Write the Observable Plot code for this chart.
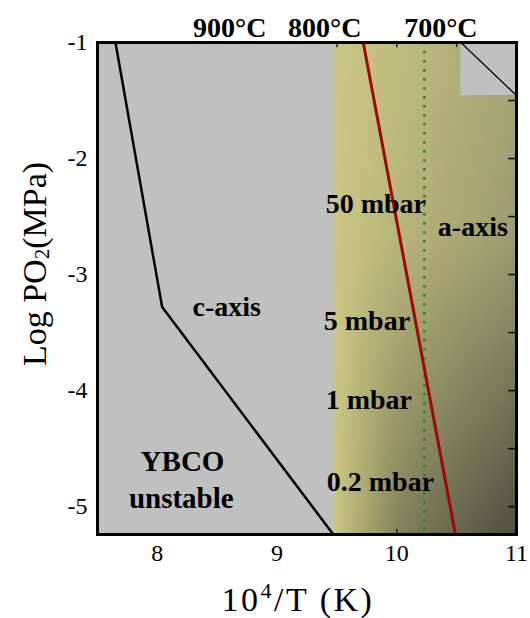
<!DOCTYPE html>
<html><head><meta charset="utf-8">
<script src="https://cdn.jsdelivr.net/npm/d3@7"></script>
<script src="https://cdn.jsdelivr.net/npm/@observablehq/plot@0.6"></script>
<style>body{margin:0;background:white} svg{display:block}</style>
</head><body><div id="chart"></div>
<script>
const xDomain = [7.5, 11];
const yDomain = [-5.24, -1];
const xTicks = [8, 9, 10, 11];
const yTicks = [-1, -2, -3, -4, -5];
const rightMinorTicks = [-1.5, -2, -2.5, -3, -3.5, -4, -4.5, -5];
const topMinorTicks = [9.5, 10, 10.5];
const bottomMinorTicks = [10];
const stabilityBoundary = [{x: 7.65, y: -1}, {x: 8.04, y: -3.28}, {x: 9.47, y: -5.24}];
const oxygenLine = [{x: 9.72, y: -1}, {x: 10.49, y: -5.24}];
const line700 = [10.23];
const aAxisRegion = [{x1: 9.48, x2: 11, y1: -5.24, y2: -1}];
const fullRegion = [{x1: 7.5, x2: 11, y1: -5.24, y2: -1}];
const cornerRegion = [{x1: 10.535, x2: 11, y1: -1.457, y2: -1}];
const cornerDiagonal = [{x: 10.535, y: -1}, {x: 11, y: -1.457}];
const tempLabels = [{x: 8.604, text: "900°C"}, {x: 9.398, text: "800°C"}, {x: 10.368, text: "700°C"}];
const leftLabels = [
  {x: 9.406, y: -2.39, text: "50 mbar"},
  {x: 10.343, y: -2.59, text: "a-axis"},
  {x: 9.39, y: -3.40, text: "5 mbar"},
  {x: 9.406, y: -4.08, text: "1 mbar"},
  {x: 9.415, y: -4.79, text: "0.2 mbar"},
  {x: 8.294, y: -3.28, text: "c-axis"}
];
const centerLabels = [
  {x: 8.21, y: -4.61, text: "YBCO"},
  {x: 8.20, y: -4.93, text: "unstable"}
];

const serif = "'Liberation Serif', 'Times New Roman', serif";

const svg = Plot.plot({
  width: 530,
  height: 618,
  marginTop: 42,
  marginBottom: 84,
  marginLeft: 97,
  marginRight: 14,
  style: {fontFamily: serif, fontSize: "24px", background: "white", color: "black"},
  x: {domain: xDomain, ticks: xTicks, tickSize: 0, tickPadding: 9, label: null, tickFormat: d => String(d)},
  y: {domain: yDomain, ticks: yTicks, tickSize: 0, tickPadding: 10, label: null, tickFormat: d => String(d)},
  marks: [
    Plot.rect(fullRegion, {x1: "x1", x2: "x2", y1: "y1", y2: "y2", fill: "#c0c0c0"}),
    Plot.rect(aAxisRegion, {x1: "x1", x2: "x2", y1: "y1", y2: "y2", fill: "url(#gh)"}),
    Plot.rect(aAxisRegion, {x1: "x1", x2: "x2", y1: "y1", y2: "y2", fill: "url(#gv)"}),
    Plot.rect(cornerRegion, {x1: "x1", x2: "x2", y1: "y1", y2: "y2", fill: "#c0c0c0"}),
    Plot.line(cornerDiagonal, {x: "x", y: "y", stroke: "black", strokeWidth: 1.2}),
    Plot.ruleY(rightMinorTicks, {x1: 11, x2: 10.935, stroke: "black", strokeWidth: 1.5}),
    Plot.ruleX(topMinorTicks, {y1: -1, y2: -1.045, stroke: "#222", strokeWidth: 1.5}),
    Plot.ruleX(bottomMinorTicks, {y1: -5.24, y2: -5.195, stroke: "#222", strokeWidth: 1.5}),
    Plot.ruleX(line700, {stroke: "#1a8a1a", strokeWidth: 2.5, strokeDasharray: "2.5 6.5"}),
    Plot.line(oxygenLine, {x: "x", y: "y", stroke: "#a00808", strokeWidth: 3}),
    Plot.line(stabilityBoundary, {x: "x", y: "y", stroke: "black", strokeWidth: 2.5}),
    Plot.text(leftLabels, {x: "x", y: "y", text: "text", textAnchor: "start", fontWeight: "bold", fontSize: 28, fill: "black"}),
    Plot.text(centerLabels, {x: "x", y: "y", text: "text", textAnchor: "middle", fontWeight: "bold", fontSize: 29, fill: "black"}),
    Plot.text(tempLabels, {x: "x", text: "text", frameAnchor: "top", lineAnchor: "middle", dy: -14, textAnchor: "middle", fontWeight: "bold", fontSize: 28, fill: "black"}),
    Plot.frame({stroke: "black", strokeWidth: 3})
  ]
});

svg.insertAdjacentHTML("afterbegin", `
<defs>
  <linearGradient id="gh" x1="0" y1="0" x2="1" y2="0">
    <stop offset="0" stop-color="#ccc883"/>
    <stop offset="1" stop-color="#a8a677"/>
  </linearGradient>
  <linearGradient id="gv" x1="0" y1="0" x2="0" y2="1">
    <stop offset="0" stop-color="#3a3932" stop-opacity="0"/>
    <stop offset="0.4" stop-color="#3a3932" stop-opacity="0.1"/>
    <stop offset="1" stop-color="#3a3932" stop-opacity="0.8"/>
  </linearGradient>
  <linearGradient id="gm" x1="0" y1="0" x2="1" y2="0">
    <stop offset="0" stop-color="white" stop-opacity="0"/>
    <stop offset="0.35" stop-color="white" stop-opacity="0.55"/>
    <stop offset="1" stop-color="white" stop-opacity="1"/>
  </linearGradient>
  <mask id="mk" maskUnits="objectBoundingBox" maskContentUnits="objectBoundingBox" x="0" y="0" width="1" height="1">
    <rect x="0" y="0" width="1" height="1" fill="url(#gm)"/>
  </mask>
</defs>`);
d3.select(svg).selectAll('[fill="url(#gv)"]').attr("mask", "url(#mk)");

const s = d3.select(svg);
const xl = s.append("text")
  .attr("x", 298).attr("y", 611)
  .attr("text-anchor", "middle")
  .attr("letter-spacing", "2.5px")
  .attr("font-family", serif).attr("font-size", 34).attr("fill", "black");
xl.append("tspan").text("10");
xl.append("tspan").attr("dy", -13).attr("font-size", 22).text("4");
xl.append("tspan").attr("dy", 13).text("/T (K)");

const yl = s.append("text")
  .attr("transform", "translate(46,264) rotate(-90)")
  .attr("text-anchor", "middle")
  .attr("font-family", serif).attr("font-size", 34).attr("fill", "black");
yl.append("tspan").text("Log PO");
yl.append("tspan").attr("dy", 3).attr("font-size", 21).text("2");
yl.append("tspan").attr("dy", -3).text("(MPa)");

document.getElementById("chart").appendChild(svg);
</script>
</body></html>
